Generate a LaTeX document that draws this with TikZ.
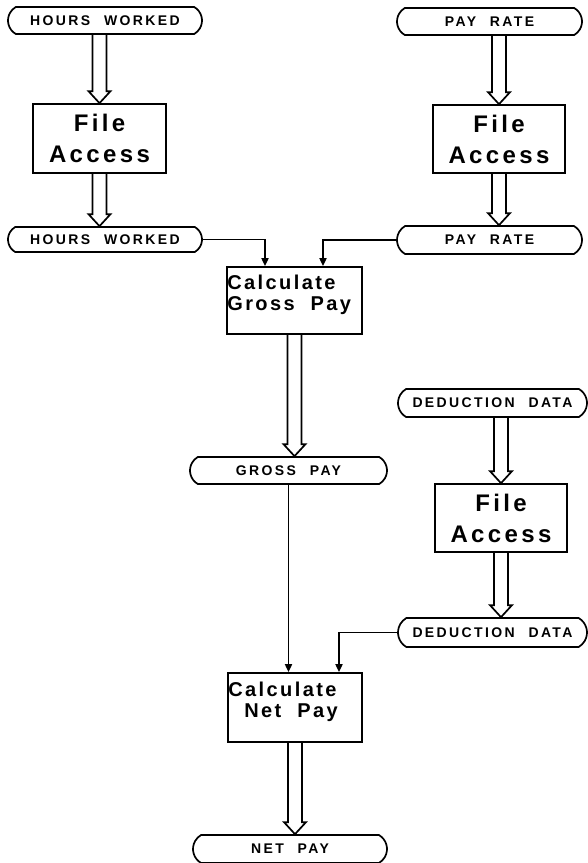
\documentclass[tikz,border=0pt]{standalone}
\usepackage{fontspec}
\setmainfont{Liberation Sans}
\newfontfamily\datafont{Liberation Sans}[LetterSpace=17,WordSpace=2.2]
\newfontfamily\boxfont{Liberation Sans}[LetterSpace=14]
\newfontfamily\calcfont{Liberation Sans}[LetterSpace=12,WordSpace=2]
\usetikzlibrary{shapes.misc,arrows.meta,calc}
\newcommand\hollowarrow[2]{%
  \draw[hollow] let \p1=#1, \p2=#2 in
    (\x2-7pt,\y1) -- (\x2-7pt,\y2+12pt) -- (\x2-11pt,\y2+12pt) -- (\x2,\y2)
    -- (\x2+11pt,\y2+12pt) -- (\x2+7pt,\y2+12pt) -- (\x2+7pt,\y1);}
\begin{document}
\begin{tikzpicture}[x=1pt,y=-1pt,
  data/.style={rounded rectangle, rounded rectangle arc length=120, draw,
    line width=1.7pt, inner sep=0pt,
    font={\datafont\bfseries\fontsize{14pt}{14pt}\selectfont}},
  proc/.style={draw, rectangle, line width=1.7pt, inner sep=0pt},
  fatext/.style={align=center, font={\boxfont\bfseries\fontsize{24pt}{31pt}\selectfont}},
  calctext/.style={align=left, inner sep=0pt, anchor=north west,
    font={\calcfont\bfseries\fontsize{20pt}{20.5pt}\selectfont}},
  conn/.style={line width=1.7pt, -{Triangle[length=8pt,width=7pt]}},
  hollow/.style={line width=1.7pt, line join=miter}]
\clip (0,0) rectangle (588,863);
\fill[white] (0,0) rectangle (588,863);

% data nodes
\node[data, minimum width=194pt, minimum height=27pt] (hw1) at (105,20.5) {HOURS WORKED};
\node[data, minimum width=185pt, minimum height=27pt] (pr1) at (489.5,21.5) {PAY RATE};
\node[data, minimum width=194pt, minimum height=25pt] (hw2) at (105,239.5) {HOURS WORKED};
\node[data, minimum width=185pt, minimum height=28pt] (pr2) at (489.5,240) {PAY RATE};
\node[data, minimum width=197pt, minimum height=27pt] (gp) at (288.5,470.5) {GROSS PAY};
\node[data, minimum width=189pt, minimum height=28pt] (dd1) at (492.5,403) {DEDUCTION DATA};
\node[data, minimum width=189pt, minimum height=29pt] (dd2) at (492.5,632.5) {DEDUCTION DATA};
\node[data, minimum width=194pt, minimum height=28pt] (netpay) at (290,849) {NET PAY};

% process boxes
\node[proc, fatext, minimum width=133pt, minimum height=69pt] (fa1) at (99.5,138.5) {File\\Access};
\node[proc, fatext, minimum width=132pt, minimum height=68pt] (fa2) at (499,139) {File\\Access};
\node[proc, fatext, minimum width=132pt, minimum height=68pt] (fa3) at (501,518) {File\\Access};
\node[proc, minimum width=135pt, minimum height=67pt] (cg) at (294.5,300.5) {};
\node[calctext] (cgt) at ([shift={(1,9)}]cg.north west) {Calculate\\Gross Pay};
\node[proc, minimum width=134pt, minimum height=69pt] (np) at (295,707.5) {};
\node[calctext] (npt) at ([shift={(1,10)}]np.north west) {Calculate\\\hspace*{16pt}Net Pay};

% hollow arrows
\hollowarrow{(hw1.south)}{(fa1.north)}
\hollowarrow{(fa1.south)}{(fa1.south |- hw2.north)}
\hollowarrow{(pr1.south)}{(fa2.north)}
\hollowarrow{(fa2.south)}{(fa2.south |- pr2.north)}
\hollowarrow{(cg.south)}{(cg.south |- gp.north)}
\hollowarrow{(dd1.south)}{(fa3.north)}
\hollowarrow{(fa3.south)}{(fa3.south |- dd2.north)}
\hollowarrow{(np.south)}{(np.south |- netpay.north)}

% connectors
\draw[conn] (hw2.east) -| ([xshift=-29.5pt]cg.north);
\draw[conn] (pr2.west) -| ([xshift=28.5pt]cg.north);
\draw[conn] (gp.south) -- (gp.south |- np.north);
\draw[conn] (dd2.west) -| ([xshift=44pt]np.north);
\end{tikzpicture}
\end{document}
